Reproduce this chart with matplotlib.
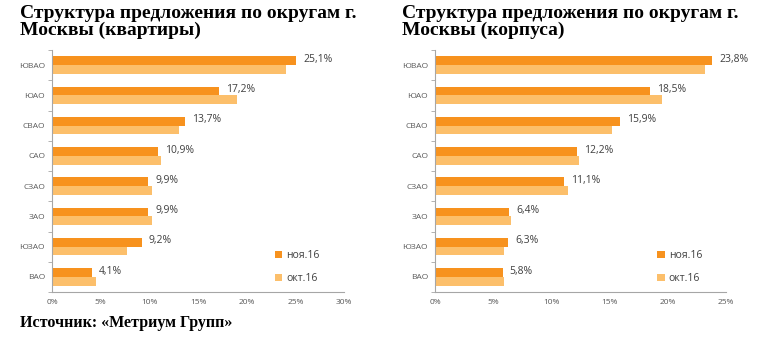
import numpy as np
import matplotlib
matplotlib.use("Agg")
import matplotlib.pyplot as plt
from matplotlib.ticker import FuncFormatter, FixedLocator

districts = ["ЮВАО", "ЮАО", "СВАО", "САО", "СЗАО", "ЗАО", "ЮЗАО", "ВАО"]

flats_nov = [25.1, 17.2, 13.7, 10.9, 9.9, 9.9, 9.2, 4.1]
flats_oct = [24.0, 19.0, 13.0, 11.2, 10.3, 10.3, 7.7, 4.5]

bldg_nov = [23.8, 18.5, 15.9, 12.2, 11.1, 6.4, 6.3, 5.8]
bldg_oct = [23.2, 19.5, 15.2, 12.4, 11.4, 6.5, 5.9, 5.9]

series_labels = ["ноя.16", "окт.16"]
titles = [
    "Структура предложения по округам г.\nМосквы (квартиры)",
    "Структура предложения по округам г.\nМосквы (корпуса)",
]
xmax = [30, 25]

DARK = "#F7921E"
LIGHT = "#FCBF6B"
TICK_C = "#595959"

plt.rcParams["font.family"] = ["Open Sans", "DejaVu Sans"]

fig = plt.figure(figsize=(7.64, 3.39), dpi=100)

# (nov, oct, axes left px, axes width px, title left px)
panels = [
    (flats_nov, flats_oct, 52, 292, 20),
    (bldg_nov, bldg_oct, 435, 291, 402),
]

W, H = 764, 339
h = 0.29
y = np.arange(len(districts))

for i, (nov, octo, x0, w, tx) in enumerate(panels):
    ax = fig.add_axes([x0 / W, 1 - 292 / H, w / W, 242 / H])
    ax.barh(y - h / 2, nov, height=h, color=DARK, label=series_labels[0], zorder=2)
    ax.barh(y + h / 2, octo, height=h, color=LIGHT, label=series_labels[1], zorder=2)

    for yy, v in zip(y, nov):
        ax.annotate(f"{v:.1f}%".replace(".", ","), (v, yy - h / 2),
                    xytext=(5, 1), textcoords="offset points",
                    va="center", ha="left", fontsize=7.5, color="#404040")

    ax.set_ylim(len(districts) - 0.5, -0.5)
    ax.set_xlim(0, xmax[i])
    ax.set_yticks(y)
    ax.set_yticklabels(districts)
    ax.yaxis.set_minor_locator(FixedLocator(np.arange(-0.5, len(districts), 1)))
    ax.tick_params(axis="y", which="major", length=0, pad=5, labelsize=6, labelcolor=TICK_C)
    ax.tick_params(axis="y", which="minor", length=3, color="#A6A6A6")
    ax.set_xticks(np.arange(0, xmax[i] + 1, 5))
    ax.xaxis.set_major_formatter(FuncFormatter(lambda v, p: f"{v:.0f}%"))
    ax.tick_params(axis="x", length=0, pad=5, labelsize=6, labelcolor=TICK_C)
    for s in ["top", "right"]:
        ax.spines[s].set_visible(False)
    for s in ["left", "bottom"]:
        ax.spines[s].set_color("#A6A6A6")
        ax.spines[s].set_linewidth(0.8)

    ax.legend(loc="center left", bbox_to_anchor=(0.732, 0.103), frameon=False,
              fontsize=7.5, handlelength=0.7, handleheight=0.7, handletextpad=0.4,
              labelspacing=1.1, labelcolor="#404040")

    fig.text(tx / W, 1 - 5 / H, titles[i], ha="left", va="top",
             fontsize=14, fontweight="bold", family="Liberation Serif",
             linespacing=0.95)

fig.text(20 / W, 1 - 323 / H, "Источник: «Метриум Групп»", ha="left", va="center",
         fontsize=11.5, fontweight="bold", family="Liberation Serif")

fig.savefig("out.png", dpi=100)
